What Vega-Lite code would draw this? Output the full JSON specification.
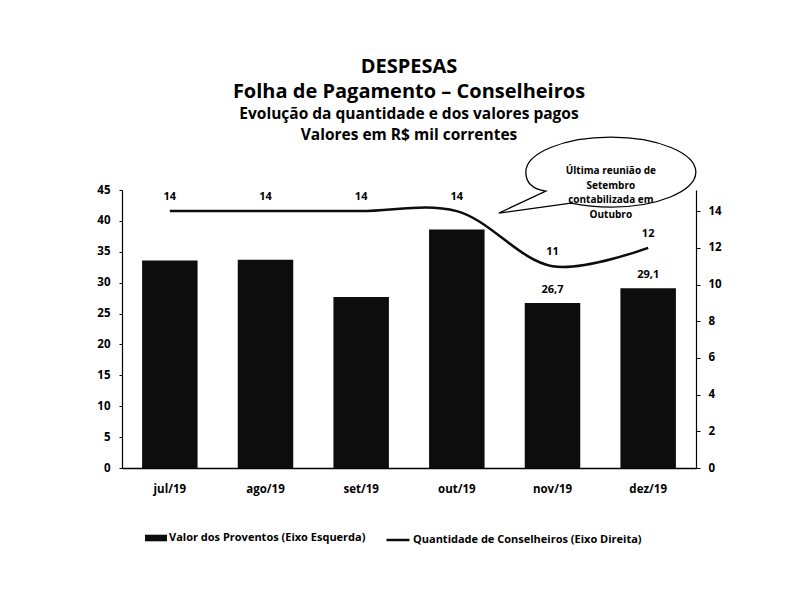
{
  "$schema": "https://vega.github.io/schema/vega-lite/v6.json",
  "width": 574,
  "height": 278,
  "autosize": {"type": "none"},
  "padding": {"left": 122, "top": 190, "right": 103, "bottom": 138},
  "background": "white",
  "config": {
    "font": "Open Sans",
    "view": {"stroke": null},
    "axis": {"labelFont": "Open Sans", "labelFontWeight": "bold", "labelColor": "#000", "domainColor": "#000", "tickColor": "#000", "grid": false, "labelOverlap": false},
    "legend": {"labelFont": "Open Sans", "labelFontWeight": "bold", "labelColor": "#000", "labelFontSize": 11, "labelLimit": 0}
  },
  "title": {
    "text": ["DESPESAS", "Folha de Pagamento – Conselheiros"],
    "subtitle": ["Evolução da quantidade e dos valores pagos", "Valores em R$ mil correntes"],
    "fontSize": 20,
    "fontWeight": "bold",
    "font": "Open Sans",
    "color": "#000",
    "subtitleFont": "Open Sans",
    "subtitleFontSize": 15.5,
    "subtitleFontWeight": "bold",
    "subtitleColor": "#000",
    "lineHeight": 25,
    "subtitleLineHeight": 21,
    "subtitlePadding": 5,
    "anchor": "middle",
    "offset": -9
  },
  "data": {
    "values": [
      {"mes": "jul/19", "valor": 33.6, "qtd": 14, "rotulo": ""},
      {"mes": "ago/19", "valor": 33.7, "qtd": 14, "rotulo": ""},
      {"mes": "set/19", "valor": 27.7, "qtd": 14, "rotulo": ""},
      {"mes": "out/19", "valor": 38.6, "qtd": 14, "rotulo": ""},
      {"mes": "nov/19", "valor": 26.7, "qtd": 11, "rotulo": "26,7"},
      {"mes": "dez/19", "valor": 29.1, "qtd": 12, "rotulo": "29,1"}
    ]
  },
  "encoding": {
    "x": {
      "field": "mes", "type": "nominal", "sort": null,
      "scale": {"paddingInner": 0.42, "paddingOuter": 0.21},
      "axis": {"title": null, "labelAngle": 0, "ticks": false, "labelPadding": 15, "labelFontSize": 11.5, "domainWidth": 1.5}
    }
  },
  "layer": [
    {
      "encoding": {
        "y": {"field": "valor", "type": "quantitative", "scale": {"domain": [0, 45], "nice": false},
          "axis": {"title": null, "values": [0,5,10,15,20,25,30,35,40,45], "labelOverlap": false, "tickSize": 3, "labelPadding": 9, "labelFontSize": 11.5, "domainWidth": 1.2}}
      },
      "layer": [
        {
          "mark": {"type": "bar", "color": "#0d0d0d"},
          "encoding": {
            "fill": {"datum": "Valor dos Proventos (Eixo Esquerda)", "type": "nominal",
              "scale": {"range": ["#0d0d0d"]},
              "legend": {"title": null, "orient": "none", "legendX": 23, "legendY": 337, "symbolType": "M -1 -0.3 L 1 -0.3 L 1 0.3 L -1 0.3 Z", "symbolSize": 484, "symbolStrokeWidth": 0, "labelOffset": 2}}
          }
        },
        {
          "mark": {"type": "text", "dy": -13, "fontSize": 11, "fontWeight": "bold", "font": "Open Sans", "color": "#000"},
          "encoding": {
            "text": {"field": "rotulo"}
          }
        }
      ]
    },
    {
      "encoding": {
        "y": {"field": "qtd", "type": "quantitative", "scale": {"domain": [0, 15.15], "nice": false},
          "axis": {"title": null, "orient": "right", "values": [0,2,4,6,8,10,12,14], "labelOverlap": false, "tickSize": 4, "labelPadding": 8, "labelFontSize": 11.5, "domainWidth": 1.2}}
      },
      "layer": [
        {
          "mark": {"type": "line", "interpolate": "catmull-rom", "color": "#0d0d0d", "strokeWidth": 2.5},
          "encoding": {
            "stroke": {"datum": "Quantidade de Conselheiros (Eixo Direita)", "type": "nominal",
              "scale": {"range": ["#0d0d0d"]},
              "legend": {"title": null, "orient": "none", "legendX": 263, "legendY": 337, "symbolType": "stroke", "symbolSize": 529, "symbolStrokeWidth": 2.5, "labelOffset": 2}}
          }
        },
        {
          "mark": {"type": "text", "dy": -14, "fontSize": 11, "fontWeight": "bold", "font": "Open Sans", "color": "#000"},
          "encoding": {
            "text": {"field": "qtd"}
          }
        },
        {
          "transform": [{"filter": "datum.mes == 'out/19'"}],
          "mark": {
            "type": "point",
            "shape": "M 0.42 0.02 L 0.89 -0.2 C 0.74 -0.22 0.69 -0.3 0.69 -0.39 C 0.69 -0.58 1.07 -0.74 1.54 -0.74 C 2.01 -0.74 2.39 -0.58 2.39 -0.39 C 2.39 -0.2 2.01 -0.04 1.54 -0.04 C 1.39 -0.04 1.24 -0.06 1.14 -0.08 Z",
            "size": 40000,
            "filled": true,
            "fill": "white",
            "stroke": "#000",
            "strokeWidth": 1.3,
            "opacity": 1
          }
        },
        {
          "transform": [{"filter": "datum.mes == 'out/19'"}],
          "mark": {"type": "text", "dx": 154, "dy": -40, "baseline": "middle", "fontSize": 10, "fontWeight": "bold", "font": "Open Sans", "color": "#000", "lineHeight": 14.5},
          "encoding": {
            "text": {"value": ["Última reunião de", "Setembro", "contabilizada em", "Outubro"]}
          }
        }
      ]
    }
  ],
  "resolve": {"scale": {"y": "independent", "fill": "independent", "stroke": "independent"}}
}
